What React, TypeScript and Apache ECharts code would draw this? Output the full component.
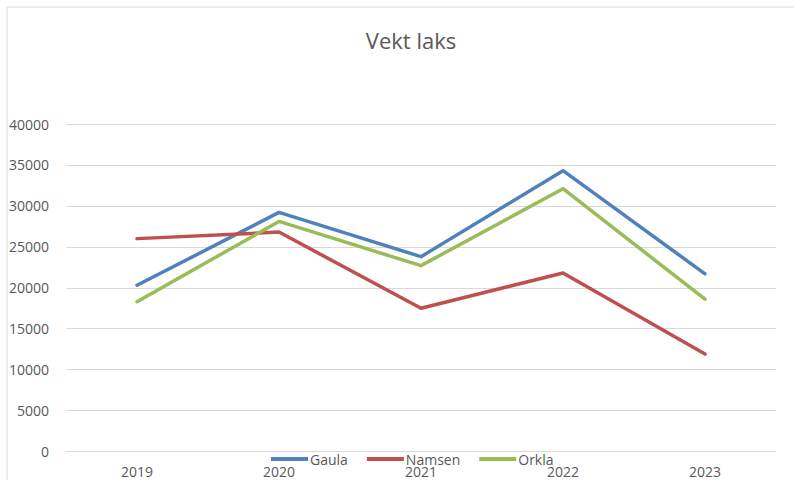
import React, { useEffect, useRef } from "react";
import * as echarts from "echarts";

const categories = ["2019", "2020", "2021", "2022", "2023"];
const gaula = [20300, 29200, 23800, 34300, 21700];
const namsen = [26000, 26800, 17500, 21800, 11900];
const orkla = [18300, 28100, 22700, 32100, 18600];
const seriesNames = ["Gaula", "Namsen", "Orkla"];
const colors = ["#4f81bd", "#c0504d", "#9bbb59"];
const titleText = "Vekt laks";

export default function App() {
  const ref = useRef<HTMLDivElement>(null);
  useEffect(() => {
    if (!ref.current) return;
    const chart = echarts.init(ref.current, undefined, { renderer: "svg" });
    const font = "'Open Sans', 'Liberation Sans', sans-serif";
    const data = [gaula, namsen, orkla];
    chart.setOption({
      animation: false,
      backgroundColor: "#ffffff",
      color: colors,
      title: {
        text: titleText,
        left: 406,
        top: 24,
        textAlign: "center",
        textStyle: { fontFamily: font, fontSize: 22, fontWeight: "normal", color: "#595959" },
      },
      legend: {
        data: seriesNames,
        left: 266,
        top: 447,
        itemWidth: 37,
        itemHeight: 4,
        itemGap: 19,
        icon: "rect",
        textStyle: { fontFamily: font, fontSize: 14, color: "#595959", padding: [0, 0, 0, -3] },
      },
      grid: { left: 66, right: 18, top: 124, bottom: 28.5, containLabel: false },
      xAxis: {
        type: "category",
        data: categories,
        boundaryGap: true,
        axisLine: { lineStyle: { color: "#d9d9d9", width: 1 } },
        axisTick: { show: false },
        axisLabel: { fontFamily: font, fontSize: 14, color: "#595959", margin: 13 },
      },
      yAxis: {
        type: "value",
        min: 0,
        max: 40000,
        interval: 5000,
        axisLine: { show: false },
        axisTick: { show: false },
        splitLine: { lineStyle: { color: "#d9d9d9", width: 1 } },
        axisLabel: {
          fontFamily: font,
          fontSize: 14,
          color: "#595959",
          margin: 17,
          formatter: (v: number) => String(v),
        },
      },
      graphic: [
        {
          type: "rect",
          shape: { x: 7, y: 7, width: 820, height: 520 },
          style: { fill: "none", stroke: "#d9d9d9", lineWidth: 1 },
          silent: true,
          z: -1,
        },
      ],
      series: seriesNames.map((name, i) => ({
        name,
        type: "line",
        data: data[i],
        symbol: "none",
        lineStyle: { width: 3.5, color: colors[i], cap: "round", join: "round" },
        itemStyle: { color: colors[i] },
      })),
    });
    return () => chart.dispose();
  }, []);
  return (
    <div
      ref={ref}
      style={{ position: "fixed", left: 0, top: 0, width: 794, height: 480 }}
    />
  );
}
